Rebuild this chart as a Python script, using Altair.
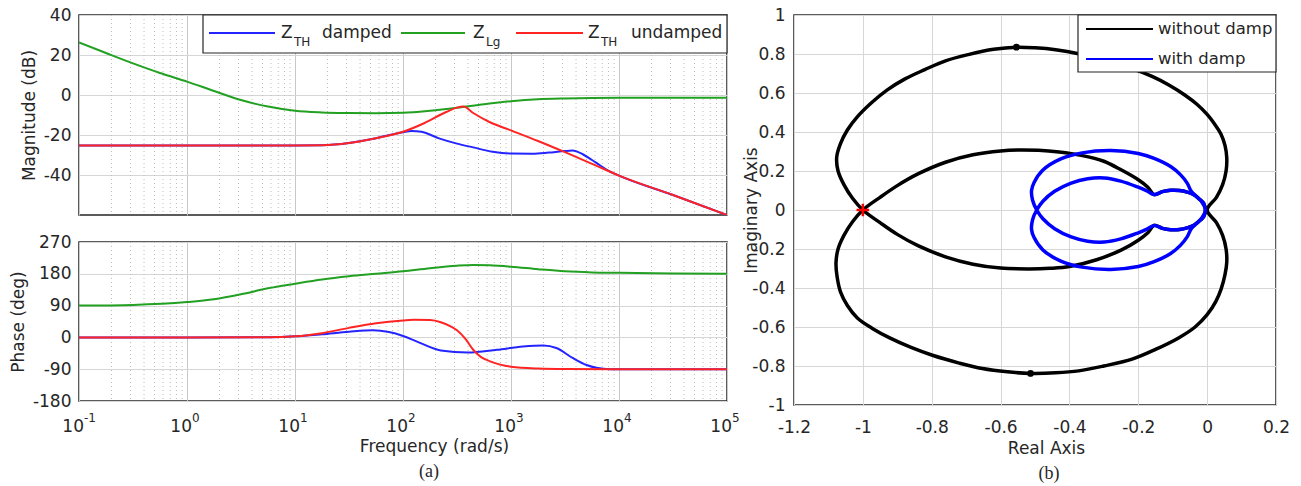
import altair as alt
import pandas as pd

FONT = "DejaVu Sans"
SERIF = "Liberation Serif"
TXT = "#262626"
GRID = "#d6d6d6"
MINOR = "#bdbdbd"
BLUE = "#2424ff"
GREEN = "#22a022"
RED = "#ff2424"
MINUS = "replace(format(datum.value, '~g'), '\u2212', '-')"

# ---------------- Bode data (log10 of frequency in rad/s, value) ----------------
mag_lg_logw = [-1, -0.75, -0.5, -0.25, 0, 0.25, 0.5, 0.75, 1.0, 1.25, 1.5, 1.75, 2.0, 2.25, 2.5, 2.75, 3.0, 3.25, 3.5, 3.75, 4.0, 4.5, 5.0]
mag_lg_db = [26.3, 21.0, 15.8, 11.0, 6.7, 2.0, -2.5, -5.8, -7.9, -8.7, -9.0, -9.1, -8.9, -7.9, -6.4, -4.6, -3.1, -2.1, -1.7, -1.5, -1.4, -1.4, -1.4]

mag_und_logw = [-1, 0, 1.0, 1.25, 1.5, 1.75, 2.0, 2.2, 2.4, 2.5, 2.56, 2.65, 2.8, 3.0, 3.25, 3.5, 3.75, 4.0, 4.5, 5.0]
mag_und_db = [-25.2, -25.2, -25.2, -25.1, -24.0, -21.6, -18.4, -14.0, -8.5, -6.3, -5.8, -9.0, -13.5, -17.7, -23.0, -28.6, -34.4, -40.3, -50.0, -60.0]

mag_dmp_logw = [-1, 0, 1.0, 1.25, 1.5, 1.75, 2.0, 2.08, 2.17, 2.34, 2.5, 2.65, 2.83, 3.0, 3.2, 3.35, 3.5, 3.57, 3.66, 3.75, 3.82, 3.9, 4.0, 4.5, 5.0]
mag_dmp_db = [-25.2, -25.2, -25.2, -25.1, -24.0, -21.6, -18.6, -18.0, -18.4, -21.8, -24.3, -26.2, -28.4, -29.3, -29.4, -28.8, -28.0, -27.8, -29.5, -32.5, -35.0, -37.8, -40.3, -50.0, -60.0]

ph_lg_logw = [-1, -0.5, 0, 0.25, 0.5, 0.75, 1.0, 1.25, 1.5, 1.75, 2.0, 2.25, 2.5, 2.65, 2.8, 3.0, 3.25, 3.5, 3.75, 4.0, 4.5, 5.0]
ph_lg_deg = [90, 92, 100, 108, 122, 139, 152, 164, 173, 180, 187, 196, 203, 205, 204, 200, 193, 187, 184, 183, 181, 180]

ph_und_logw = [-1, 0, 0.75, 1.0, 1.25, 1.5, 1.75, 2.0, 2.1, 2.25, 2.35, 2.45, 2.5, 2.58, 2.65, 2.72, 2.8, 2.9, 3.0, 3.25, 3.5, 4.0, 5.0]
ph_und_deg = [0, 0, 0.5, 3, 12, 27, 40, 48, 50, 49, 43, 30, 20, -5, -35, -55, -67, -77, -83, -88, -89.5, -90, -90]

ph_dmp_logw = [-1, 0, 0.75, 1.0, 1.25, 1.5, 1.72, 1.87, 2.0, 2.13, 2.35, 2.6, 2.87, 3.11, 3.3, 3.42, 3.57, 3.7, 3.79, 3.92, 4.5, 5.0]
ph_dmp_deg = [0, 0, 0.5, 3, 9, 16, 20, 15, 4, -12, -37, -43, -35, -26, -23, -30, -58, -78, -86, -90, -90, -90]

DECADES = [0.1, 1, 10, 100, 1000, 10000, 100000]
DEC_EXP = ["-1", "0", "1", "2", "3", "4", "5"]
MAG_TICKS = [-40, -20, 0, 20, 40]
PH_TICKS = [-180, -90, 0, 90, 180, 270]

# ---------------- Nyquist data (real, imaginary) ----------------
black_re = [-0.005, -0.01, -0.025, -0.04, -0.058, -0.08, -0.106, -0.13, -0.154,
            -0.173, -0.2, -0.25, -0.3, -0.366, -0.43, -0.49, -0.55, -0.6, -0.68, -0.76, -0.84, -0.9, -0.95, -1.0,
            -1.03, -1.055, -1.072, -1.078, -1.075, -1.065, -1.045, -1.016, -0.97, -0.922, -0.86, -0.798, -0.72, -0.653,
            -0.58, -0.513, -0.44, -0.373, -0.3, -0.218, -0.15, -0.083, -0.035, 0.0, 0.025, 0.041, 0.052, 0.057, 0.055,
            0.045, 0.027, 0.0,
            0.027, 0.045, 0.055, 0.057, 0.052, 0.04, 0.022, 0.0, -0.028, -0.065, -0.11, -0.16, -0.218, -0.29, -0.37,
            -0.44, -0.5, -0.554, -0.62, -0.694, -0.76, -0.82, -0.88, -0.93, -0.975, -1.015, -1.045, -1.065, -1.076,
            -1.072, -1.055, -1.03, -1.0,
            -0.95, -0.9, -0.84, -0.76, -0.68, -0.6, -0.518, -0.456, -0.4, -0.321, -0.25, -0.2, -0.173, -0.154,
            -0.13, -0.106, -0.08, -0.058, -0.04, -0.025, -0.01, -0.005]
black_im = [0.0, 0.034, 0.06, 0.08, 0.092, 0.1, 0.101, 0.094, 0.079,
            0.118, 0.155, 0.206, 0.25, 0.28, 0.297, 0.306, 0.308, 0.303, 0.283, 0.245, 0.185, 0.125, 0.065, 0.0,
            -0.06, -0.13, -0.2, -0.27, -0.34, -0.42, -0.49, -0.554, -0.61, -0.656, -0.705, -0.745, -0.785, -0.813,
            -0.83, -0.838, -0.835, -0.825, -0.8, -0.765, -0.715, -0.656, -0.6, -0.537, -0.47, -0.403, -0.33, -0.267, -0.2,
            -0.13, -0.065, 0.0,
            0.065, 0.13, 0.2, 0.267, 0.33, 0.39, 0.44, 0.49, 0.54, 0.59, 0.64, 0.685, 0.725, 0.765, 0.8,
            0.822, 0.832, 0.835, 0.824, 0.797, 0.765, 0.72, 0.67, 0.615, 0.55, 0.48, 0.41, 0.34, 0.27,
            0.2, 0.13, 0.06, 0.0,
            -0.065, -0.125, -0.183, -0.24, -0.278, -0.298, -0.302, -0.299, -0.29, -0.255, -0.206, -0.155, -0.118, -0.079,
            -0.094, -0.101, -0.1, -0.092, -0.08, -0.06, -0.034, 0.0]

blue_re = [-0.005, -0.01, -0.025, -0.04, -0.058, -0.08, -0.106, -0.13, -0.154,
           -0.175, -0.202, -0.251, -0.299, -0.347, -0.395, -0.443, -0.477, -0.495,
           -0.507, -0.51, -0.503, -0.477, -0.425, -0.363, -0.28, -0.2, -0.154, -0.106, -0.077, -0.058, -0.046, -0.03, -0.015, -0.005,
           -0.015, -0.03, -0.046, -0.058, -0.077, -0.106, -0.154, -0.2, -0.28, -0.363, -0.425, -0.477, -0.503, -0.51, -0.507, -0.495,
           -0.477, -0.443, -0.395, -0.347, -0.299, -0.251, -0.202, -0.175, -0.154,
           -0.13, -0.106, -0.08, -0.058, -0.04, -0.025, -0.01, -0.005]
blue_im = [0.0, 0.034, 0.06, 0.08, 0.092, 0.1, 0.101, 0.094, 0.079,
           0.098, 0.118, 0.148, 0.164, 0.16, 0.138, 0.096, 0.045, 0.0,
           -0.05, -0.1, -0.14, -0.205, -0.262, -0.293, -0.305, -0.29, -0.265, -0.223, -0.18, -0.138, -0.096, -0.068, -0.04, 0.0,
           0.04, 0.068, 0.096, 0.138, 0.18, 0.223, 0.265, 0.29, 0.305, 0.293, 0.262, 0.205, 0.14, 0.1, 0.05, 0.0,
           -0.045, -0.096, -0.138, -0.16, -0.164, -0.148, -0.118, -0.098, -0.079,
           -0.094, -0.101, -0.1, -0.092, -0.08, -0.06, -0.034, 0.0]

arrow_re = [-0.554, -0.513]
arrow_im = [0.835, -0.838]
crit_re = [-1.0]
crit_im = [0.0]

NYQ_X_TICKS = [-1.2, -1, -0.8, -0.6, -0.4, -0.2, 0, 0.2]
NYQ_Y_TICKS = [-1, -0.8, -0.6, -0.4, -0.2, 0, 0.2, 0.4, 0.6, 0.8, 1]

# ---------------- layout sizes ----------------
W, H1, H2 = 648, 200, 159
NW, NH = 482, 390

one = pd.DataFrame({"a": [0]})


def sdf(logw, vals):
    return pd.DataFrame({"w": [10 ** v for v in logw], "v": vals})


minor_df = pd.DataFrame({"w": [k * 10.0 ** n for n in range(-1, 5) for k in range(2, 10)]})
dec_df = pd.DataFrame({"w": DECADES, "e": DEC_EXP})
xsc = alt.Scale(type="log", domain=[0.1, 100000], nice=False)


def bode(series, ydom, yvals, ytitle, xaxis):
    xenc = alt.X("w:Q", scale=xsc, axis=xaxis)
    yenc = alt.Y("v:Q", scale=alt.Scale(domain=ydom, nice=False, zero=False),
                 axis=alt.Axis(values=yvals, labelExpr=MINUS, title=ytitle, grid=True, gridColor=GRID,
                               ticks=False, domain=False, labelPadding=8, titlePadding=5))
    layers = [alt.Chart(minor_df).mark_rule(color=MINOR, strokeDash=[1, 3], strokeWidth=1).encode(x=xenc)]
    for df, col in series:
        layers.append(alt.Chart(df).mark_line(color=col, strokeWidth=2, interpolate="monotone", clip=True)
                      .encode(x=xenc, y=yenc))
    return layers, xenc


def txt(x, y, s, size=17, align="left", font=FONT, baseline="middle"):
    return alt.Chart(one).mark_text(align=align, baseline=baseline, fontSize=size, font=font, color=TXT).encode(
        x=alt.value(x), y=alt.value(y), text=alt.value(s))


def hline(x1, x2, y, col, w=2):
    return alt.Chart(one).mark_rule(color=col, strokeWidth=w).encode(x=alt.value(x1), x2=alt.value(x2), y=alt.value(y))


# ---- magnitude panel ----
mag_xaxis = alt.Axis(values=DECADES, labels=False, ticks=False, domain=False, grid=True, gridColor="#c8c8c8", title=None)
mag_layers, _ = bode([(sdf(mag_dmp_logw, mag_dmp_db), BLUE), (sdf(mag_lg_logw, mag_lg_db), GREEN),
                      (sdf(mag_und_logw, mag_und_db), RED)], [-60, 40], MAG_TICKS, "Magnitude (dB)", mag_xaxis)
leg_a = [
    alt.Chart(one).mark_rect(fill="white", stroke=TXT, strokeWidth=1.2).encode(
        x=alt.value(124), x2=alt.value(W), y=alt.value(0), y2=alt.value(38)),
    hline(130, 196, 18, BLUE), txt(202, 18, "Z"), txt(215, 27, "TH", size=12), txt(243, 18, "damped"),
    hline(322, 386, 18, GREEN), txt(394, 18, "Z"), txt(407, 27, "Lg", size=12),
    hline(437, 504, 18, RED), txt(509, 18, "Z"), txt(522, 27, "TH", size=12), txt(552, 18, "undamped"),
]
mag = alt.layer(*mag_layers, *leg_a).properties(width=W, height=H1)

# ---- phase panel ----
ph_xaxis = alt.Axis(values=DECADES, labels=False, ticks=False, domain=False, grid=True, gridColor="#c8c8c8",
                    title="Frequency (rad/s)", titleX=355, titleY=37, titleAlign="center")
ph_layers, ph_x = bode([(sdf(ph_dmp_logw, ph_dmp_deg), BLUE), (sdf(ph_lg_logw, ph_lg_deg), GREEN),
                        (sdf(ph_und_logw, ph_und_deg), RED)], [-180, 270], PH_TICKS, "Phase (deg)", ph_xaxis)
dec_base = alt.Chart(dec_df).mark_text(align="right", baseline="alphabetic", dx=5, fontSize=17, font=FONT,
                                       color=TXT).encode(x=ph_x, y=alt.value(H2 + 31), text=alt.value("10"))
dec_exp = alt.Chart(dec_df).mark_text(align="left", baseline="alphabetic", dx=5, fontSize=12, font=FONT,
                                      color=TXT).encode(x=ph_x, y=alt.value(H2 + 21), text="e:N")
cap_a = txt(350, 230, "(a)", size=18, align="center", font=SERIF)
phase = alt.layer(*ph_layers, dec_base, dec_exp, cap_a).properties(width=W, height=H2)

left = alt.vconcat(mag, phase, spacing=27, bounds="flush")

# ---- Nyquist panel ----
nx = alt.X("x:Q", scale=alt.Scale(domain=[-1.2, 0.2], nice=False, zero=False),
           axis=alt.Axis(values=NYQ_X_TICKS, labelExpr=MINUS, title="Real Axis", grid=True, gridColor=GRID,
                         ticks=False, domain=False, labelPadding=14, labelFlush=False, labelOverlap=False,
                         titleX=252, titleY=35, titleAlign="center"))
ny = alt.Y("y:Q", scale=alt.Scale(domain=[-1, 1], nice=False, zero=False),
           axis=alt.Axis(values=NYQ_Y_TICKS, labelExpr=MINUS, title="Imaginary Axis", grid=True, gridColor=GRID,
                         ticks=False, domain=False, labelPadding=9, labelOverlap=False,
                         titleX=-34, titleY=NH / 2, titleAngle=270, titleAlign="center", titleBaseline="bottom"))


def path_df(re, im):
    return pd.DataFrame({"x": re, "y": im, "i": list(range(len(re)))})


black = alt.Chart(path_df(black_re, black_im)).mark_line(color="black", strokeWidth=3.5, interpolate="catmull-rom").encode(
    x=nx, y=ny, order="i:Q")
blue = alt.Chart(path_df(blue_re, blue_im)).mark_line(color="#0000ff", strokeWidth=3.5, interpolate="catmull-rom").encode(
    x=nx, y=ny, order="i:Q")
arrows = alt.Chart(pd.DataFrame({"x": arrow_re, "y": arrow_im})).mark_point(
    filled=True, color="black", size=45, opacity=1).encode(x=nx, y=ny)
crit = alt.Chart(pd.DataFrame({"x": crit_re, "y": crit_im})).mark_point(
    shape="M-1,0L1,0M0,-1L0,1", filled=False, color="#ff0000", strokeWidth=2.5, size=160, opacity=1).encode(x=nx, y=ny)
leg_b = [
    alt.Chart(one).mark_rect(fill="white", stroke=TXT, strokeWidth=1.2).encode(
        x=alt.value(284), x2=alt.value(NW), y=alt.value(0), y2=alt.value(57)),
    hline(292, 359, 14, "black"), txt(364, 14, "without damp", size=16.5),
    hline(292, 359, 44, "#0000ff"), txt(364, 44, "with damp", size=16.5),
]
cap_b = txt(255, 459, "(b)", size=18, align="center", font=SERIF)
nyq = alt.layer(black, blue, arrows, crit, *leg_b, cap_b).properties(width=NW, height=NH)

chart = alt.hconcat(left, nyq, spacing=0).properties(
    padding={"left": 8, "top": 5, "right": 5, "bottom": 2}
).configure_view(stroke=TXT, strokeWidth=1.5).configure_axis(
    labelFont=FONT, titleFont=FONT, labelFontSize=17, titleFontSize=17, labelColor=TXT, titleColor=TXT,
    titleFontWeight="normal"
)

chart.save("out.html", embed_options={"renderer": "svg", "actions": False})
